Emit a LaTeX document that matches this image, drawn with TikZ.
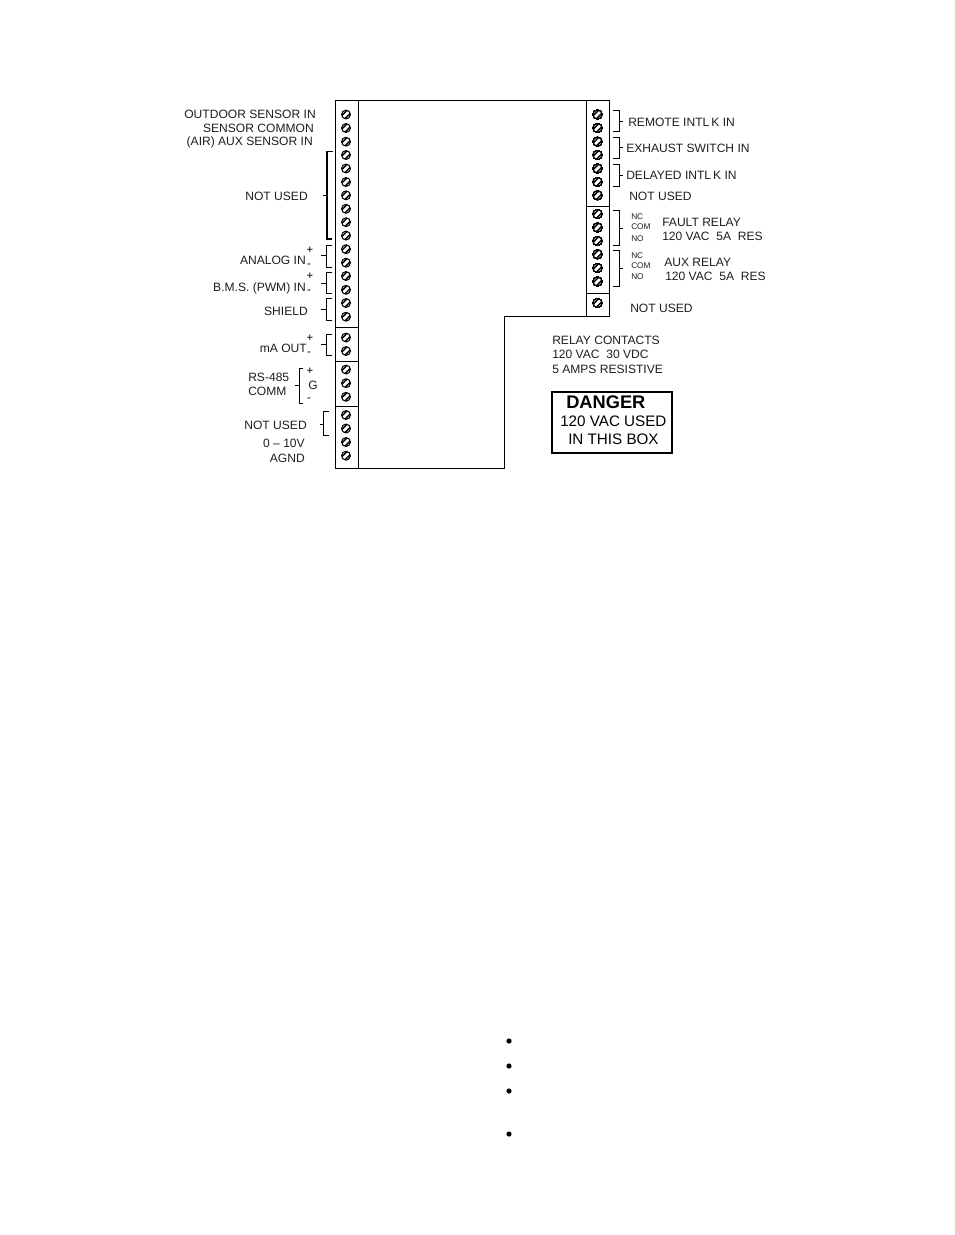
\documentclass[tikz,border=0pt]{standalone}
\usepackage{fontspec}
\setmainfont{Liberation Sans}
\tikzset{
  x=0.75pt,y=-0.75pt,
  wire/.style={draw=black,line width=0.8pt},
  brk/.style={draw=black,line width=0.75pt},
  brkthick/.style={draw=black,line width=1.1pt},
  lab/.style={inner sep=0pt,text=black!88,font=\fontsize{9.05}{10}\selectfont},
  labw/.style={lab,anchor=base west},
  labe/.style={lab,anchor=base east},
  tiny/.style={inner sep=0pt,text=black!88,anchor=base west,font=\fontsize{6.2}{7}\selectfont},
  sign/.style={inner sep=0pt,anchor=center,font=\fontsize{8.5}{9}\selectfont},
  dangerbox/.style={draw=black,line width=1.2pt},
  screwbody/.style={draw=black,line width=0.8pt,fill=white},
  bulletdot/.style={fill=black,draw=none},
}
\newcommand{\screw}[2]{%
  \draw[screwbody] (#1,#2) circle[radius=4.4];
  \begin{scope}
    \clip (#1,#2) circle[radius=4.4];
    \draw[black,line width=1.05pt] (#1-6,#2+2.9)--(#1+2.9,#2-6);
    \draw[black,line width=1.05pt] (#1-2.9,#2+6)--(#1+6,#2-2.9);
  \end{scope}}
\newcommand{\lbrk}[5]{\draw[brk] (#3,#1)--(#2,#1)--(#2,#4)--(#3,#4); \draw[brk] (#2,#5)--(#2-5,#5);}
\newcommand{\rbrk}[3]{\draw[brk] (613,#1)--(619,#1)--(619,#2)--(613,#2); \draw[brk] (619,#3)--(623,#3);}
\begin{document}
\begin{tikzpicture}
\useasboundingbox (0,0) rectangle (954,1235);
\fill[white] (0,0) rectangle (954,1235);
% outline
\draw[wire] (335.5,100.5)--(609.5,100.5)--(609.5,316.5)--(504.5,316.5)--(504.5,468.5)--(335.5,468.5)--cycle;
\draw[wire] (358.5,100.5)--(358.5,468.5);
\draw[wire] (586.5,100.5)--(586.5,316.5);
\foreach \y in {327.5,361.5,406.5} \draw[wire] (335.5,\y)--(358.5,\y);
\foreach \y in {206.5,293.5} \draw[wire] (586.5,\y)--(609.5,\y);
% screws
\foreach \y in {114.5,128,141.7,155,168.5,182,195.3,208.8,222.2,235.6,249.2,262.7,276,289.8,303,316.7,337.5,351,369.5,383.2,396.8,415,428.5,442,455.7} \screw{346}{\y}
\foreach \y in {114.5,128,141.7,155,168.5,182,195.3,214,227.5,241,254.3,268,281.5,303} \screw{597.5}{\y}
% left brackets
\draw[brkthick] (332,151.7)--(327,151.7)--(327,239)--(332,239);
\draw[brkthick] (327,195.7)--(323,195.7);
\lbrk{245}{326}{332}{267}{255.7}
\lbrk{272}{326}{332}{293}{283}
\lbrk{298}{326}{332}{320}{309}
\lbrk{334}{326}{332}{355}{344.5}
\draw[brk] (303,368)--(299,368)--(299,403)--(303,403);
\draw[brk] (299,385.5)--(295,385.5);
\draw[brk] (329,411)--(323.5,411)--(323.5,435)--(329,435);
\draw[brk] (323.5,424)--(320,424);
% right brackets
\rbrk{110}{131}{121}
\rbrk{137}{158}{147.5}
\rbrk{164}{186}{175}
\rbrk{210}{245}{228}
\rbrk{250}{286}{268}
% left labels
\node[labe] (outdoor) at (316,118) {OUTDOOR SENSOR IN};
\node[labe] (common) at (314,132) {SENSOR COMMON};
\node[labe] (air) at (313,145) {(AIR) AUX SENSOR IN};
\node[labe] (nu1) at (308,200) {NOT USED};
\node[labe] (analog) at (306,264) {ANALOG IN};
\node[labe] (bms) at (306,291) {B.M.S. (PWM) IN};
\node[labe] (shield) at (308,315) {SHIELD};
\node[labe] (maout) at (307,352) {mA OUT};
\node[labw] (rs) at (248,381) {RS-485};
\node[labw] (comm) at (248,395) {COMM};
\node[labe] (nu2) at (307,429) {NOT USED};
\node[labe] (volt) at (305,447) {0 – 10V};
\node[labe] (agnd) at (305,462) {AGND};
% signs
\node[sign] (p1) at (310,250.5) {+};
\node[sign] (m1) at (309,266) {-};
\node[sign] (p2) at (310,276.5) {+};
\node[sign] (m2) at (309,292) {-};
\node[sign] (p3) at (310,338.5) {+};
\node[sign] (m3) at (309,354) {-};
\node[sign] (p4) at (310,371) {+};
\node[labw] (g) at (308,389) {G};
\node[sign] (m4) at (309,400) {-};
% right labels
\node[labw] (remote) at (628,126) {REMOTE INTL\,K IN};
\node[labw] (exhaust) at (626,152) {EXHAUST SWITCH IN};
\node[labw] (delayed) at (626,179) {DELAYED INTL\,K IN};
\node[labw] (nu3) at (629,200) {NOT USED};
\node[tiny] (nc1) at (631,219) {NC};
\node[tiny] (com1) at (631,229) {COM};
\node[tiny] (no1) at (631,241) {NO};
\node[labw] (fault) at (662,226) {FAULT RELAY};
\node[labw] (r1) at (662,240) {120 VAC\; 5A\; RES};
\node[tiny] (nc2) at (631,258) {NC};
\node[tiny] (com2) at (631,268) {COM};
\node[tiny] (no2) at (631,279) {NO};
\node[labw] (aux) at (664,266) {AUX RELAY};
\node[labw] (r2) at (665,280) {120 VAC\; 5A\; RES};
\node[labw] (nu4) at (630,312) {NOT USED};
\node[labw] (rc) at (552,344) {RELAY CONTACTS};
\node[labw] (v) at (552,358) {120 VAC\; 30 VDC};
\node[labw] (amps) at (552,373) {5 AMPS RESISTIVE};
% danger
\draw[dangerbox] (552,392) rectangle (672,453);
\node[inner sep=0pt,anchor=base west,font=\fontsize{13.7}{15}\selectfont\bfseries] (danger) at (566,408) {DANGER};
\node[inner sep=0pt,anchor=base west,font=\fontsize{11.4}{13}\selectfont] (d2) at (560,426) {120 VAC USED};
\node[inner sep=0pt,anchor=base west,font=\fontsize{11.4}{13}\selectfont] (d3) at (568,444) {IN THIS BOX};
% bullets
\foreach \y in {1041,1066,1091,1134} \fill[bulletdot] (509,\y) circle[radius=2.6];
\end{tikzpicture}
\end{document}
